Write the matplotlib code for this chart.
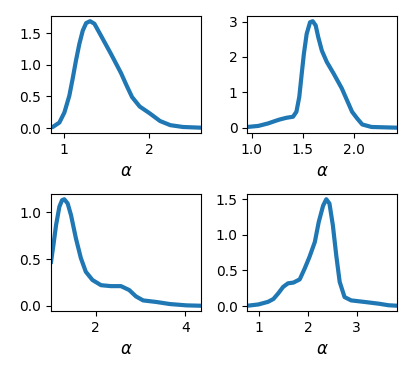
import matplotlib
matplotlib.use("Agg")
import matplotlib.pyplot as plt

# curvas de densidad
x1 = [0.847, 0.867, 0.945, 1.004, 1.062, 1.10, 1.14, 1.18, 1.22, 1.26, 1.306, 1.357, 1.435, 1.553, 1.67, 1.74, 1.80, 1.89, 2.01, 2.13, 2.25, 2.40, 2.61]
y1 = [0.01, 0.016, 0.086, 0.245, 0.51, 0.77, 1.065, 1.33, 1.54, 1.66, 1.69, 1.65, 1.46, 1.17, 0.87, 0.66, 0.49, 0.34, 0.23, 0.11, 0.045, 0.016, 0.005]

x2 = [0.958, 1.065, 1.16, 1.24, 1.277, 1.34, 1.404, 1.437, 1.465, 1.489, 1.51, 1.537, 1.57, 1.596, 1.625, 1.65, 1.685, 1.733, 1.80, 1.88, 1.93, 1.98, 2.03, 2.08, 2.17, 2.42]
y2 = [0.02, 0.05, 0.12, 0.2, 0.234, 0.28, 0.31, 0.45, 0.87, 1.53, 2.09, 2.65, 2.98, 3.01, 2.89, 2.56, 2.18, 1.86, 1.53, 1.11, 0.78, 0.45, 0.26, 0.09, 0.02, 0.0]

x3 = [1.004, 1.06, 1.115, 1.19, 1.25, 1.30, 1.375, 1.45, 1.56, 1.67, 1.78, 1.93, 2.12, 2.34, 2.565, 2.75, 2.9, 3.06, 3.36, 3.66, 4.03, 4.35]
y3 = [0.47, 0.66, 0.86, 1.06, 1.13, 1.14, 1.095, 0.97, 0.72, 0.51, 0.364, 0.275, 0.22, 0.21, 0.21, 0.168, 0.1, 0.057, 0.04, 0.018, 0.004, 0.0]

x4 = [0.754, 0.98, 1.18, 1.29, 1.39, 1.49, 1.59, 1.70, 1.83, 1.93, 2.03, 2.14, 2.22, 2.31, 2.375, 2.44, 2.51, 2.58, 2.65, 2.75, 2.885, 3.19, 3.46, 3.65, 3.83]
y4 = [0.005, 0.023, 0.06, 0.1, 0.18, 0.27, 0.32, 0.33, 0.375, 0.525, 0.69, 0.90, 1.18, 1.41, 1.50, 1.44, 1.135, 0.71, 0.34, 0.127, 0.08, 0.056, 0.033, 0.012, 0.005]

datos = [(x1, y1), (x2, y2), (x3, y3), (x4, y4)]

fig, axs = plt.subplots(2, 2, figsize=(4.15, 3.69), dpi=100)
fig.subplots_adjust(left=0.123, right=0.957, bottom=0.157, top=0.957, wspace=0.31, hspace=0.52)

for ax, (x, y) in zip(axs.flat, datos):
    ax.plot(x, y, color="#1f77b4", lw=3, solid_joinstyle="round")
    ax.set_xlim(x[0], x[-1])
    ax.set_xlabel(r"$\alpha$", fontsize=12)

axs[0, 0].set_xticks([1, 2])
axs[0, 0].set_yticks([0.0, 0.5, 1.0, 1.5])
axs[0, 1].set_xticks([1.0, 1.5, 2.0])
axs[0, 1].set_yticks([0, 1, 2, 3])
axs[1, 0].set_xticks([2, 4])
axs[1, 0].set_yticks([0.0, 0.5, 1.0])
axs[1, 1].set_xticks([1, 2, 3])
axs[1, 1].set_yticks([0.0, 0.5, 1.0, 1.5])

fig.savefig("out.png", dpi=100)
